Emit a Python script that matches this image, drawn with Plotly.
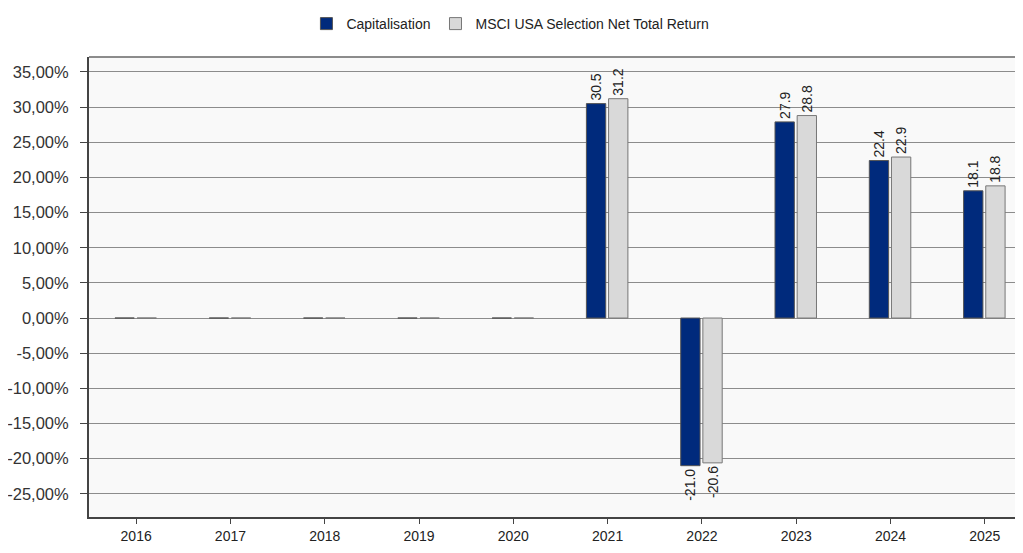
import plotly.graph_objects as go

years = ["2016", "2017", "2018", "2019", "2020", "2021", "2022", "2023", "2024", "2025"]
capitalisation = [0, 0, 0, 0, 0, 30.5, -21.0, 27.9, 22.4, 18.1]
msci = [0, 0, 0, 0, 0, 31.2, -20.6, 28.8, 22.9, 18.8]
cap_labels = ["", "", "", "", "", "30.5", "-21.0", "27.9", "22.4", "18.1"]
msci_labels = ["", "", "", "", "", "31.2", "-20.6", "28.8", "22.9", "18.8"]
y_ticks = [35, 30, 25, 20, 15, 10, 5, 0, -5, -10, -15, -20, -25]
y_ticktext = ["35,00%", "30,00%", "25,00%", "20,00%", "15,00%", "10,00%", "5,00%",
              "0,00%", "-5,00%", "-10,00%", "-15,00%", "-20,00%", "-25,00%"]

FONT = "Liberation Sans Narrow, Arial Narrow, Liberation Sans, Arial, sans-serif"

fig = go.Figure()
fig.add_trace(go.Bar(
    x=list(range(len(years))), y=capitalisation, name="Capitalisation",
    marker=dict(color="#002a7c", line=dict(color="#555555", width=1)),
    width=0.205, offset=-0.225,
    text=cap_labels, textposition="outside", textangle=-90, constraintext="none",
    textfont=dict(size=14, color="#222222", family=FONT), cliponaxis=False,
))
fig.add_trace(go.Bar(
    x=list(range(len(years))), y=msci, name="MSCI USA Selection Net Total Return",
    marker=dict(color="#d9d9d9", line=dict(color="#777777", width=1)),
    width=0.205, offset=0.01,
    text=msci_labels, textposition="outside", textangle=-90, constraintext="none",
    textfont=dict(size=14, color="#222222", family=FONT), cliponaxis=False,
))

fig.update_layout(
    width=1015, height=537,
    margin=dict(l=81, r=0, t=49, b=28, autoexpand=False),
    paper_bgcolor="white", plot_bgcolor="#f9f9f9",
    font=dict(family=FONT, size=14, color="#333333"),
    barmode="group",
    showlegend=True,
    legend=dict(orientation="h", x=0.495, xanchor="center", xref="container",
                y=1.0, yanchor="top", yref="container",
                font=dict(size=14, color="#222222", family=FONT),
                traceorder="normal"),
    xaxis=dict(
        tickmode="array", tickvals=list(range(len(years))), ticktext=years,
        range=[-0.5, 9.405], showgrid=False, zeroline=False,
        showline=True, linecolor="#444444", linewidth=1.5, mirror=False,
        ticks="outside", ticklen=5, tickcolor="#444444",
        tickfont=dict(size=14, color="#222222"),
    ),
    yaxis=dict(
        range=[-28.3, 37.13], tickmode="array", tickvals=y_ticks, ticktext=y_ticktext,
        showgrid=True, gridcolor="#8c8c8c", gridwidth=1,
        zeroline=True, zerolinecolor="#8c8c8c", zerolinewidth=1,
        showline=True, linecolor="#444444", linewidth=2,
        ticks="outside", ticklen=7, tickcolor="#444444", ticklabelstandoff=8,
        tickfont=dict(size=16.5, color="#333333"),
    ),
)
fig.add_shape(type="line", xref="paper", yref="paper", x0=0, x1=1, y0=1, y1=1,
              line=dict(color="#666666", width=1.5))

fig.write_html("out.html", default_width="1015px", default_height="537px")
